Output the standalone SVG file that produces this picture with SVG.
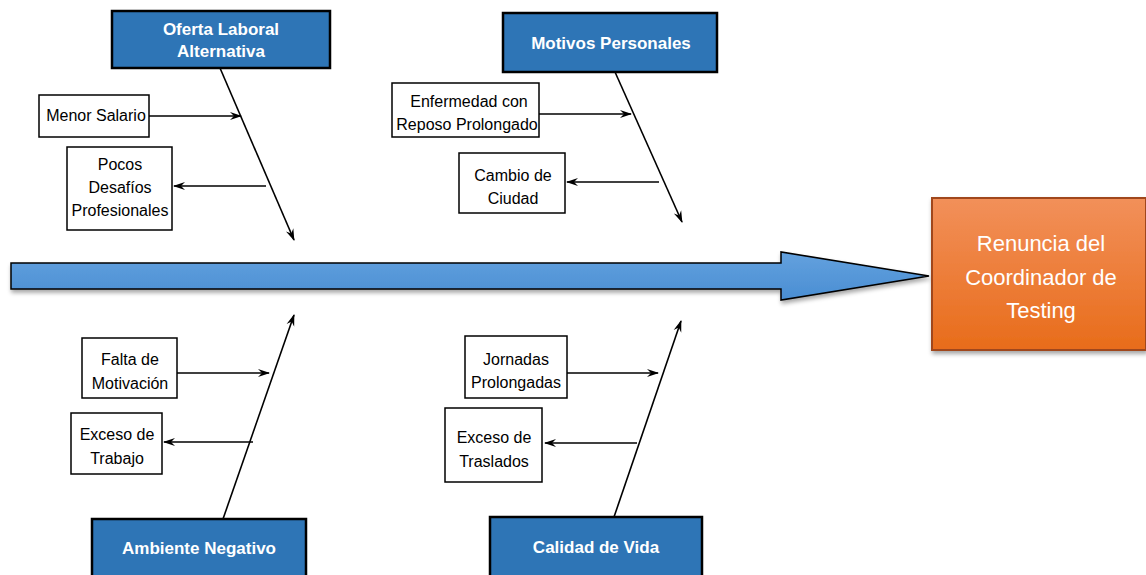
<svg xmlns="http://www.w3.org/2000/svg" width="1146" height="575" viewBox="0 0 1146 575">
<defs>
<linearGradient id="gBlue" x1="0" y1="0" x2="0" y2="1">
<stop offset="0" stop-color="#63A1DE"/>
<stop offset="1" stop-color="#4A8ED3"/>
</linearGradient>
<linearGradient id="gOrange" x1="0" y1="0" x2="0" y2="1">
<stop offset="0" stop-color="#F2905A"/>
<stop offset="1" stop-color="#E86C1A"/>
</linearGradient>
<filter id="sh" x="-5%" y="-20%" width="110%" height="150%">
<feDropShadow dx="1" dy="3" stdDeviation="2" flood-color="#000" flood-opacity="0.35"/>
</filter>
<marker id="ah" viewBox="0 0 12 10" refX="11" refY="5" markerWidth="12" markerHeight="10" markerUnits="userSpaceOnUse" orient="auto">
<path d="M0,1 L12,5 L0,9 L4,5 Z" fill="#000"/>
</marker>
</defs>
<style>
.hdr rect{fill:#2E75B6;stroke:#000;stroke-width:2.5}
.hdr text{fill:#fff;font-family:"Liberation Sans",Arial,sans-serif;font-weight:bold;font-size:17px;text-anchor:middle}
.cause rect{fill:#fff;stroke:#000;stroke-width:1.5}
.cause text{fill:#000;font-family:"Liberation Sans",Arial,sans-serif;font-size:16px;text-anchor:middle}
.con line{stroke:#000;stroke-width:1.6;marker-end:url(#ah)}
</style>
<rect width="1146" height="575" fill="#fff"/>

<g id="spine" filter="url(#sh)">
<path d="M11,263 L781,263 L781,252 L929,276 L781,300 L781,289 L11,289 Z" fill="url(#gBlue)" stroke="#000" stroke-width="1.5"/>
</g>

<g id="effect">
<rect x="932" y="198" width="214" height="152" fill="url(#gOrange)" stroke="#A0461A" stroke-width="2" filter="url(#sh)"/>
<text x="1041" y="251" fill="#fff" font-family="Liberation Sans,Arial,sans-serif" font-size="22" text-anchor="middle">Renuncia del</text>
<text x="1041" y="285" fill="#fff" font-family="Liberation Sans,Arial,sans-serif" font-size="22" text-anchor="middle">Coordinador de</text>
<text x="1041" y="318" fill="#fff" font-family="Liberation Sans,Arial,sans-serif" font-size="22" text-anchor="middle">Testing</text>
</g>

<g id="hdr-oferta" class="hdr">
<rect x="112" y="11" width="218" height="57"/>
<text x="221" y="35">Oferta Laboral</text>
<text x="221" y="57">Alternativa</text>
</g>
<g id="hdr-motivos" class="hdr">
<rect x="503" y="13" width="214" height="59"/>
<text x="611" y="49">Motivos Personales</text>
</g>
<g id="hdr-ambiente" class="hdr">
<rect x="92" y="519" width="214" height="60"/>
<text x="199" y="554">Ambiente Negativo</text>
</g>
<g id="hdr-calidad" class="hdr">
<rect x="490" y="517" width="212" height="62"/>
<text x="596" y="553">Calidad de Vida</text>
</g>

<g id="c-menor" class="cause">
<rect x="39" y="95" width="110" height="42"/>
<text x="96" y="121">Menor Salario</text>
</g>
<g id="c-pocos" class="cause">
<rect x="67" y="147" width="105" height="83"/>
<text x="120" y="170">Pocos</text>
<text x="120" y="193">Desafíos</text>
<text x="120" y="216">Profesionales</text>
</g>
<g id="c-enfermedad" class="cause">
<rect x="392" y="83" width="147" height="54"/>
<text x="469" y="107">Enfermedad  con</text>
<text x="467" y="130">Reposo Prolongado</text>
</g>
<g id="c-cambio" class="cause">
<rect x="459" y="153" width="106" height="60"/>
<text x="513" y="181">Cambio de</text>
<text x="513" y="204">Ciudad</text>
</g>
<g id="c-falta" class="cause">
<rect x="82" y="338" width="95" height="60"/>
<text x="130" y="365">Falta de</text>
<text x="130" y="389">Motivación</text>
</g>
<g id="c-exceso-trabajo" class="cause">
<rect x="71" y="413" width="91" height="61"/>
<text x="117" y="440">Exceso de</text>
<text x="117" y="464">Trabajo</text>
</g>
<g id="c-jornadas" class="cause">
<rect x="465" y="336" width="102" height="62"/>
<text x="516" y="365">Jornadas</text>
<text x="516" y="388">Prolongadas</text>
</g>
<g id="c-traslados" class="cause">
<rect x="445" y="408" width="97" height="74"/>
<text x="494" y="443">Exceso de</text>
<text x="494" y="467">Traslados</text>
</g>

<g id="connectors" class="con">
<line x1="220" y1="68" x2="294" y2="240"/>
<line x1="615" y1="72" x2="682" y2="222"/>
<line x1="223" y1="519" x2="294" y2="315"/>
<line x1="614" y1="517" x2="681" y2="321"/>
<line x1="149" y1="116" x2="241" y2="116"/>
<line x1="266" y1="186" x2="174" y2="186"/>
<line x1="539" y1="114" x2="631" y2="114"/>
<line x1="659" y1="182" x2="567" y2="182"/>
<line x1="177" y1="373" x2="269" y2="373"/>
<line x1="253" y1="442" x2="164" y2="442"/>
<line x1="567" y1="373" x2="658" y2="373"/>
<line x1="637" y1="443" x2="545" y2="443"/>
</g>
</svg>
